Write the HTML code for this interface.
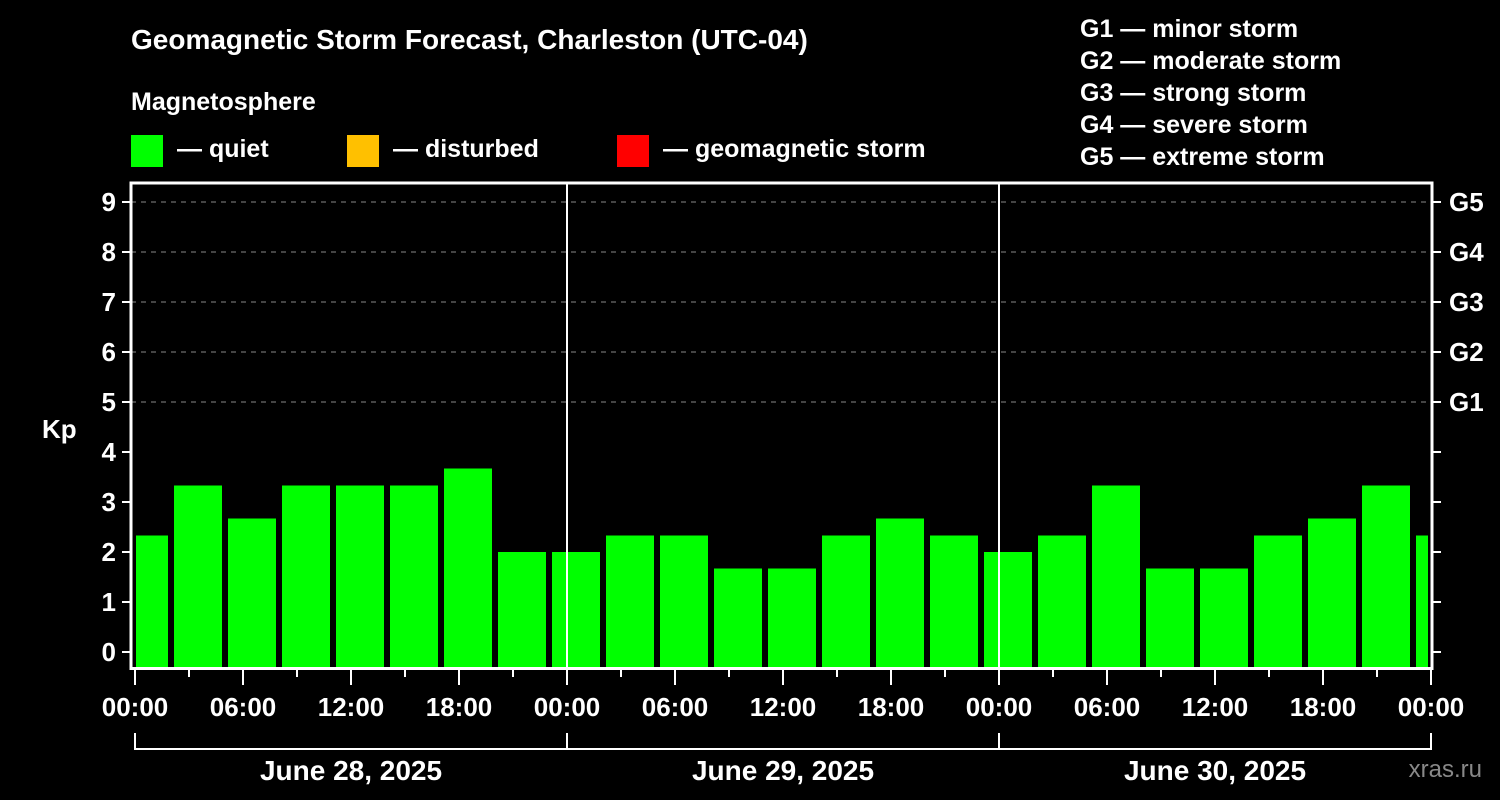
<!DOCTYPE html>
<html><head><meta charset="utf-8"><style>
body{margin:0;background:#000;}
svg{display:block;font-family:"Liberation Sans",Arial,sans-serif;font-weight:bold;}
</style></head><body>
<svg width="1500" height="800" viewBox="0 0 1500 800" font-family="Liberation Sans, Arial, sans-serif" font-weight="bold">
<rect width="1500" height="800" fill="#000"/>
<text x="131" y="49" fill="#fff" font-size="28">Geomagnetic Storm Forecast, Charleston (UTC-04)</text>
<text x="131" y="110" fill="#fff" font-size="25">Magnetosphere</text>
<g><rect x="131" y="135" width="32" height="32" fill="#00ff00"/><text x="177" y="157" fill="#fff" font-size="25">— quiet</text></g>
<g><rect x="347" y="135" width="32" height="32" fill="#ffc000"/><text x="393" y="157" fill="#fff" font-size="25">— disturbed</text></g>
<g><rect x="617" y="135" width="32" height="32" fill="#ff0000"/><text x="663" y="157" fill="#fff" font-size="25">— geomagnetic storm</text></g>
<g fill="#fff" font-size="25">
<text x="1080" y="37">G1 — minor storm</text><text x="1080" y="69">G2 — moderate storm</text><text x="1080" y="101">G3 — strong storm</text><text x="1080" y="133">G4 — severe storm</text><text x="1080" y="165">G5 — extreme storm</text>
</g>
<text x="42" y="438" fill="#fff" font-size="26">Kp</text>
<text x="1482" y="777" fill="#888" font-size="24" text-anchor="end" font-weight="normal">xras.ru</text>
<defs><clipPath id="pc"><rect x="136" y="183" width="1292" height="486"/></clipPath></defs>
<g id="grid"></g>
<g id="bars" clip-path="url(#pc)"></g>
<g id="axes"></g>
</svg>
<script>
const kpValues=[2.33,3.33,2.67,3.33,3.33,3.33,3.67,2.0,2.0,2.33,2.33,1.67,1.67,2.33,2.67,2.33,2.0,2.33,3.33,1.67,1.67,2.33,2.67,3.33,2.33];
const barStartHours=[-1,2,5,8,11,14,17,20,23,26,29,32,35,38,41,44,47,50,53,56,59,62,65,68,71];
const yTicks=[0,1,2,3,4,5,6,7,8,9];
const gLabels=["G1","G2","G3","G4","G5"];
const gLevels=[5,6,7,8,9];
const xTickLabels=["00:00","06:00","12:00","18:00","00:00","06:00","12:00","18:00","00:00","06:00","12:00","18:00","00:00"];
const dayLabels=["June 28, 2025","June 29, 2025","June 30, 2025"];
const NS="http://www.w3.org/2000/svg";
const x0=135,pxH=18,y0=652,pxK=50,plotTop=183,plotBot=668.5,plotLeft=131,plotRight=1432;
const X=h=>x0+h*pxH, Y=k=>y0-k*pxK;
function mk(t,a,p){const e=document.createElementNS(NS,t);for(const k in a)e.setAttribute(k,a[k]);p.appendChild(e);return e;}
const grid=document.getElementById('grid'),bars=document.getElementById('bars'),axes=document.getElementById('axes');
gLevels.forEach(k=>{const l=mk('line',{x1:plotLeft,x2:plotRight,y1:Y(k),y2:Y(k),stroke:'#888','stroke-dasharray':'5,5','stroke-width':1},grid);

});
kpValues.forEach((v,i)=>{const xs=X(barStartHours[i])+3;const r=mk('rect',{x:xs,y:Y(v),width:48,height:plotBot-Y(v),fill:'#00ff00'},bars);

});
[1,2].forEach(d=>{const l=mk('line',{x1:X(24*d),x2:X(24*d),y1:plotTop,y2:plotBot,stroke:'#fff','stroke-width':2},axes);

});
const fr=mk('rect',{x:plotLeft,y:plotTop,width:plotRight-plotLeft,height:plotBot-plotTop,fill:'none',stroke:'#fff','stroke-width':3},axes);


yTicks.forEach(k=>{mk('line',{x1:122,x2:plotLeft,y1:Y(k),y2:Y(k),stroke:'#fff','stroke-width':2},axes);
mk('line',{x1:plotRight,x2:1441,y1:Y(k),y2:Y(k),stroke:'#fff','stroke-width':2},axes);
const t=mk('text',{x:116,y:Y(k)+9,fill:'#fff','font-size':26,'text-anchor':'end'},axes);t.textContent=k;

});
gLevels.forEach((k,i)=>{const t=mk('text',{x:1449,y:Y(k)+9,fill:'#fff','font-size':26},axes);t.textContent=gLabels[i];

});
for(let h=0;h<=72;h+=3){const major=h%6===0;mk('line',{x1:X(h),x2:X(h),y1:plotBot,y2:major?685:677,stroke:'#fff','stroke-width':2},axes);}
xTickLabels.forEach((s,i)=>{const t=mk('text',{x:X(i*6),y:716,fill:'#fff','font-size':26,'text-anchor':'middle'},axes);t.textContent=s;

});
mk('path',{d:`M${X(0)},733V749H${X(72)}V733`,fill:'none',stroke:'#fff','stroke-width':2},axes);
[1,2].forEach(d=>mk('line',{x1:X(24*d),x2:X(24*d),y1:733,y2:749,stroke:'#fff','stroke-width':2},axes));
dayLabels.forEach((s,i)=>{const t=mk('text',{x:X(24*i+12),y:780,fill:'#fff','font-size':28,'text-anchor':'middle'},axes);t.textContent=s;

});
</script>
</body></html>
